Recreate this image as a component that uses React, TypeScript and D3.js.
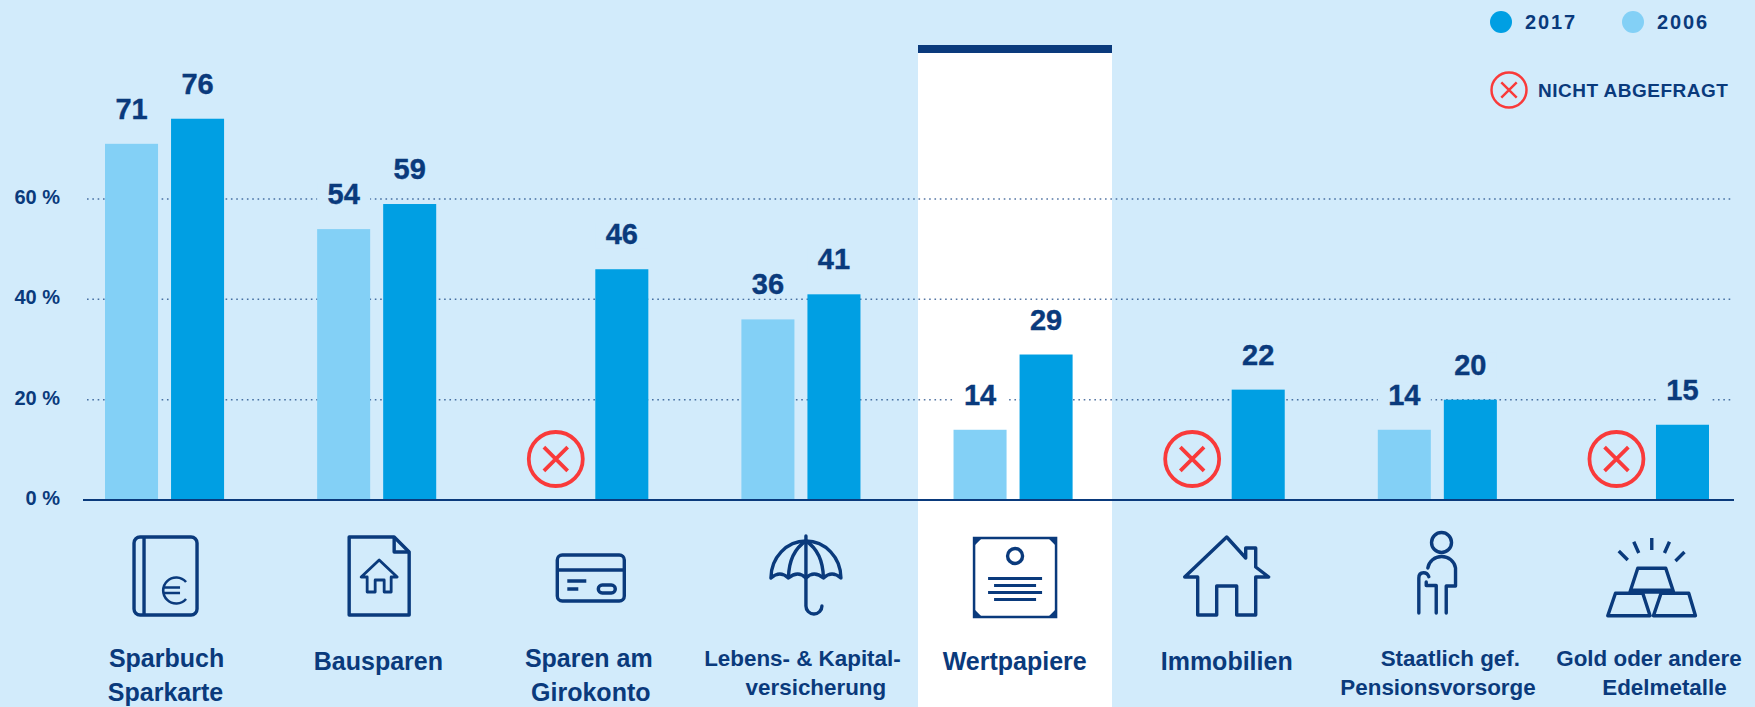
import * as d3 from "d3";
import React from "react";

const categories = ["Sparbuch", "Bausparen", "Girokonto", "Lebens", "Wertpapiere", "Immobilien", "Pension", "Gold"];
const values2006 = [71, 54, null, 36, 14, null, 14, null];
const values2017 = [76, 59, 46, 41, 29, 22, 20, 15];
const yTicks = [0, 20, 40, 60];
const labelLines = [
  ["Sparbuch", "Sparkarte"],
  ["Bausparen"],
  ["Sparen am", "Girokonto"],
  ["Lebens- & Kapital-", "versicherung"],
  ["Wertpapiere"],
  ["Immobilien"],
  ["Staatlich gef.", "Pensionsvorsorge"],
  ["Gold oder andere", "Edelmetalle"],
];

const NAVY = "#0a3a7c";
const C2017 = "#009fe3";
const C2006 = "#83d0f6";
const RED = "#f93a3a";
const BG = "#d2ebfb";
const FONT = "'Liberation Sans', Arial, sans-serif";

const width = 1755;
const height = 707;
const baseline = 500;
const HIGHLIGHT = 4; // Wertpapiere sits on the white panel

const x = d3.scaleBand().domain(categories).range([105, 1709]).paddingInner(0.4387).paddingOuter(0);
const series = d3.scaleBand().domain(["2006", "2017"]).range([0, x.bandwidth()]).paddingInner(0.197);
const y = d3.scaleLinear().domain([0, 60]).range([baseline, 199]);

const icon = { fill: "none", stroke: NAVY, strokeWidth: 3.4, strokeLinejoin: "round" as const };

const NotAsked = ({ cx, cy, r }: { cx: number; cy: number; r: number }) => {
  const a = r * 0.44;
  return (
    <g fill="none" stroke={RED} strokeWidth={r * 0.14}>
      <circle cx={cx} cy={cy} r={r} />
      <path d={`M${cx - a},${cy - a}L${cx + a},${cy + a}M${cx - a},${cy + a}L${cx + a},${cy - a}`} />
    </g>
  );
};

const BarValue = ({ bx, bw, v, bg }: { bx: number; bw: number; v: number; bg: string }) => (
  <g>
    {/* labels knock the dotted grid out behind them */}
    <rect x={bx} y={y(v) - 47} width={bw} height={26} fill={bg} />
    <text x={bx + bw / 2} y={y(v) - 25} textAnchor="middle" fontSize={29} fontWeight={700} fill={NAVY} stroke={NAVY} strokeWidth={0.4}>
      {v}
    </text>
  </g>
);

// icons are drawn around x = 0, the y values are page pixels
const icons = [
  <g {...icon}>
    <rect x={-32} y={537} width={63} height={78} rx={6} />
    <path d="M-22,537V615" />
    <path d="M20,582A13,13 0 1 0 20,599M-3,587.5H14M-3,593H14" strokeWidth={2.6} />
  </g>,
  <g {...icon}>
    <path d="M-30,537H15L30,552V615H-30Z" />
    <path d="M15,537V552H30" />
    <path d="M0,560L-18,577H-12V592H-4V580H5V592H12V577H18Z" strokeWidth={2.8} />
  </g>,
  <g {...icon}>
    <rect x={-33} y={555} width={67} height={46} rx={5} />
    <path d="M-33,570H34M-23,581H-4M-23,589H-12" />
    <rect x={8} y={585} width={17} height={8} rx={4} />
  </g>,
  <g {...icon}>
    <path d="M0,536V606A8,8 0 0 0 16,606" strokeLinecap="round" />
    <path d="M-35,578A35,37 0 0 1 35,578Q26,570 17.500,578Q8,570 0,578Q-8,570 -17.500,578Q-26,570 -35,578Z" />
    <path d="M0,541Q-17,552 -17.500,578M0,541Q17,552 17.500,578" />
  </g>,
  <g>
    <path d="M-41,538H41V617H-41Z" fill="none" stroke={NAVY} strokeWidth={2.5} />
    <path d="M-41,538h8l-8,8ZM41,538h-8l8,8ZM-41,617h8l-8,-8ZM41,617h-8l8,-8Z" fill={NAVY} />
    <circle cy={556} r={7.500} fill="none" stroke={NAVY} strokeWidth={3.4} />
    <path d="M-27,578.500H27M-21,585.500H21M-27,592.500H27M-21,599.500H21" stroke={NAVY} strokeWidth={3} />
  </g>,
  <g {...icon}>
    <path d="M0,537L19,558V548H29V567L42,577H29V615H10V586H-10V615H-29V577H-42Z" />
  </g>,
  <g {...icon} strokeLinecap="round">
    <circle cx={2} cy={542.500} r={10} />
    <path d="M-11.700,568A14,13.500 0 0 1 16,568V586H6.700V613M-3.300,585.500V613M-13.300,582V585.500H-3.300" />
    <path d="M-20.700,613V578Q-20.700,572.700 -16,572.700Q-12,572.700 -10.700,576.700" />
  </g>,
  <g {...icon}>
    <path d="M-14,568.300H14L21.700,591.700H-21.700ZM-36.300,593.300H-9L-1.700,615.700H-44ZM9.300,593.300H37L43.700,615.700H1.700Z" />
    <path d="M-21.700,591H21.700" strokeWidth={5} />
    <path d="M0,538V550M-18,541.700L-13,553M17.700,541.700L12.700,553M-33,551L-24,560M32.700,552L23.700,561" strokeLinecap="butt" />
  </g>,
];
const iconShift = [1.5, 2.5, 1.5, 5, 2, 1.500, 2.200, 2.300];
const labelShift = [
  [2, 1],
  [1.700],
  [0, 2],
  [1.500, 15],
  [1.600],
  [1.500],
  [13, 0.700],
  [-0.500, 15],
];

export default function App() {
  return (
    <svg
      width={width}
      height={height}
      style={{ position: "absolute", left: 0, top: 0, display: "block", fontFamily: FONT }}
    >
      <rect width={width} height={height} fill={BG} />
      <rect x={918} y={45} width={194} height={height - 45} fill="#fff" />
      <rect x={918} y={45} width={194} height={8} fill={NAVY} />

      {yTicks.map((t) => (
        <g key={t}>
          {t > 0 && (
            <line x1={87} x2={1731} y1={y(t)} y2={y(t)} stroke={NAVY} strokeOpacity={0.7} strokeWidth={1.5} strokeDasharray="1.6 3.73" />
          )}
          <text x={60} y={y(t) + 5} textAnchor="end" fontSize={20} fontWeight={700} fill={NAVY}>
            {t} %
          </text>
        </g>
      ))}

      {categories.map((c, i) => {
        const left = x(c)!;
        const a = values2006[i];
        const b = values2017[i];
        const xa = left + series("2006")!;
        const xb = left + series("2017")!;
        const bw = series.bandwidth();
        const mid = left + x.bandwidth() / 2;
        const bg = i === HIGHLIGHT ? "#fff" : BG;
        return (
          <g key={c}>
            {a !== null ? (
              <g>
                <rect x={xa} y={y(a)} width={bw} height={baseline - y(a)} fill={C2006} />
                <BarValue bx={xa} bw={bw} v={a} bg={bg} />
              </g>
            ) : (
              <NotAsked cx={xa + bw / 2} cy={459} r={27} />
            )}
            <rect x={xb} y={y(b)} width={bw} height={baseline - y(b)} fill={C2017} />
            <BarValue bx={xb} bw={bw} v={b} bg={bg} />
            <g transform={`translate(${mid + iconShift[i]},0)`}>{icons[i]}</g>
            {labelLines[i].map((line, k) => {
              const n = labelLines[i].length;
              const small = i === 3 || i >= 6;
              return (
                <text
                  key={line}
                  x={mid + labelShift[i][k]}
                  y={n === 1 ? 670 : small ? 666 + k * 28.5 : 667 + k * 34}
                  textAnchor="middle"
                  fontSize={small ? 22.4 : 25}
                  fontWeight={700}
                  fill={NAVY}
                >
                  {line}
                </text>
              );
            })}
          </g>
        );
      })}

      <line x1={83} x2={1734} y1={baseline} y2={baseline} stroke={NAVY} strokeWidth={2} />

      <circle cx={1501} cy={22} r={11} fill={C2017} />
      <text x={1525} y={29} fontSize={20} fontWeight={700} fill={NAVY} letterSpacing={1.9}>2017</text>
      <circle cx={1633} cy={22} r={11} fill={C2006} />
      <text x={1657} y={29} fontSize={20} fontWeight={700} fill={NAVY} letterSpacing={1.9}>2006</text>
      <NotAsked cx={1509} cy={90} r={17.500} />
      <text x={1538} y={96.500} fontSize={19} fontWeight={700} fill={NAVY} letterSpacing={0.5}>NICHT ABGEFRAGT</text>
    </svg>
  );
}
